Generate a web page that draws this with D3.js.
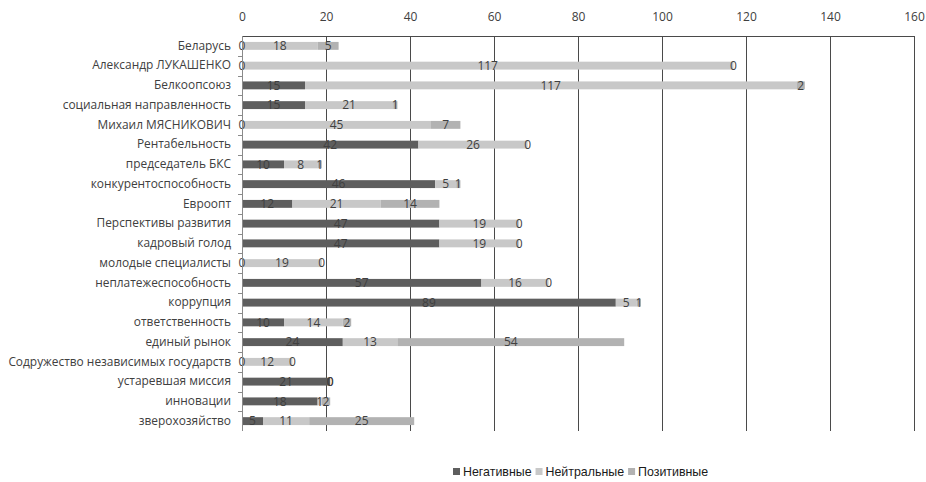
<!DOCTYPE html>
<html><head><meta charset="utf-8">
<script src="https://cdn.jsdelivr.net/npm/d3@7"></script>
<style>body{margin:0;background:#fff}svg{display:block}</style>
</head><body><svg id="c" width="926" height="482"></svg>
<script>
const categories = ["Беларусь","Александр ЛУКАШЕНКО","Белкоопсоюз","социальная направленность","Михаил МЯСНИКОВИЧ","Рентабельность","председатель БКС","конкурентоспособность","Евроопт","Перспективы развития","кадровый голод","молодые специалисты","неплатежеспособность","коррупция","ответственность","единый рынок","Содружество независимых государств","устаревшая миссия","инновации","зверохозяйство"];
const negative = [0,0,15,15,0,42,10,46,12,47,47,0,57,89,10,24,0,21,18,5];
const neutral  = [18,117,117,21,45,26,8,5,21,19,19,19,16,5,14,13,12,0,1,11];
const positive = [5,0,2,1,7,0,1,1,14,0,0,0,0,1,2,54,0,0,2,25];
const seriesNames = ["Негативные","Нейтральные","Позитивные"];
const xTicks = [0,20,40,60,80,100,120,140,160];

(function(){
const colors = ["#5e5e5e","#c8c8c8","#b2b2b2"];
const svg = d3.select("#c");
const pL = 242, pR = 914, pT = 36, pB = 431;
const x = d3.scaleLinear().domain([0,160]).range([pL,pR]);
const y = d3.scaleBand().domain(categories).range([pT,pB]).paddingInner(0.6).paddingOuter(0.3);
const band = d3.scaleBand().domain(categories).range([pT,pB]);
const labelFont = "Open Sans, sans-serif";

svg.append("g").selectAll("line").data(xTicks.slice(1)).join("line")
  .attr("x1",d=>x(d)+0.5).attr("x2",d=>x(d)+0.5).attr("y1",pT).attr("y2",pB)
  .attr("stroke","#4a4a4a").attr("stroke-width",1);
svg.append("line").attr("x1",pL).attr("x2",pR).attr("y1",pT+0.5).attr("y2",pT+0.5).attr("stroke","#4a4a4a");

const xa = svg.append("g").attr("transform",`translate(0,${pT})`)
  .call(d3.axisTop(x).tickValues(xTicks).tickSize(0).tickPadding(15));
xa.select(".domain").remove();
xa.selectAll("text").attr("font-family",labelFont).attr("font-size",12).attr("fill","#404040");

const data = categories.map((c,i)=>({cat:c, vals:[negative[i],neutral[i],positive[i]]}));
const stack = d3.stack().keys([0,1,2]).value((d,k)=>d.vals[k]);
const stacked = stack(data);
stacked.forEach((s,k)=>{
  svg.append("g").selectAll("rect").data(s).join("rect")
    .attr("x",d=>x(d[0])).attr("width",d=>x(d[1])-x(d[0]))
    .attr("y",d=>y(d.data.cat)).attr("height",y.bandwidth())
    .attr("fill",colors[k]);
});
stacked.forEach((s,k)=>{
  svg.append("g").selectAll("text").data(s).join("text")
    .attr("x",d=>x((d[0]+d[1])/2)).attr("y",d=>y(d.data.cat)+y.bandwidth()/2)
    .attr("dy","0.35em").attr("text-anchor","middle")
    .attr("font-family",labelFont).attr("font-size",12).attr("fill","#404040")
    .text(d=>d.data.vals[k]);
});

const ya = svg.append("g").attr("transform",`translate(${pL},0)`)
  .call(d3.axisLeft(y).tickSize(0).tickPadding(11));
ya.select(".domain").remove();
ya.selectAll("text").attr("font-family",labelFont).attr("font-size",11.9).attr("fill","#404040");
svg.append("g").selectAll("line").data(categories.slice(1)).join("line")
  .attr("x1",pL-4).attr("x2",pL).attr("y1",d=>Math.round(band(d))+0.5).attr("y2",d=>Math.round(band(d))+0.5)
  .attr("stroke","#8a8a8a");
svg.append("line").attr("x1",pL+0.5).attr("x2",pL+0.5).attr("y1",pT).attr("y2",pB).attr("stroke","#8a8a8a");

const lg = svg.append("g").attr("transform","translate(453,472)");
let lx = 0;
seriesNames.forEach((n,k)=>{
  lg.append("rect").attr("x",lx).attr("y",-4).attr("width",7).attr("height",7).attr("fill",colors[k]);
  const t = lg.append("text").attr("x",lx+10).attr("y",0).attr("dy","0.35em")
    .attr("font-family","Liberation Sans, Arial, sans-serif").attr("font-size",12.4).attr("fill","#1a1a1a").text(n);
  lx += 10 + t.node().getComputedTextLength() + 4;
});
})();
</script></body></html>
